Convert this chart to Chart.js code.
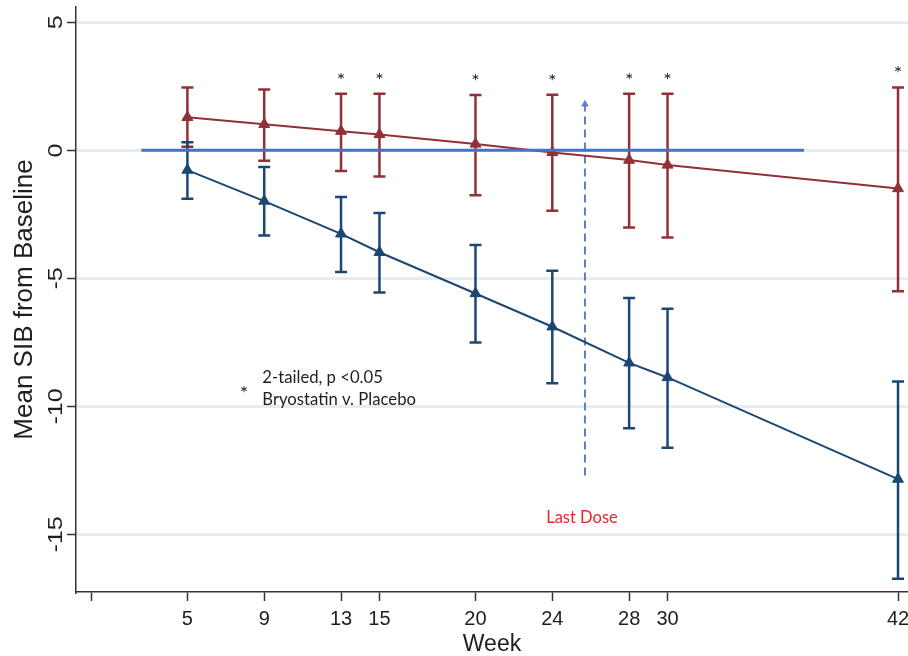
<!DOCTYPE html>
<html>
<head>
<meta charset="utf-8">
<title>Mean SIB from Baseline</title>
<script src="https://cdn.jsdelivr.net/npm/chart.js@4.4.1/dist/chart.umd.min.js"></script>
<style>
  html, body { margin: 0; padding: 0; background: #fff; }
  #wrap { position: relative; width: 908px; height: 656px; }
</style>
</head>
<body>
<div id="wrap"><canvas id="sibChart"></canvas></div>
<script>
// visit weeks
const weeks = [5, 9, 13, 15, 20, 24, 28, 30, 42];

// red series: mean and error bar ends
const redMean = [1.29, 1.02, 0.75, 0.62, 0.25, -0.08, -0.38, -0.57, -1.49];
const redHigh = [2.46, 2.38, 2.21, 2.21, 2.16, 2.17, 2.21, 2.21, 2.46];
const redLow  = [0.14, -0.41, -0.81, -1.02, -1.75, -2.36, -3.01, -3.40, -5.50];

// navy series: mean and error bar ends
const navyMean = [-0.77, -1.98, -3.26, -3.98, -5.59, -6.89, -8.30, -8.87, -12.84];
const navyHigh = [0.32, -0.65, -1.82, -2.45, -3.70, -4.70, -5.77, -6.19, -9.03];
const navyLow  = [-1.89, -3.33, -4.75, -5.55, -7.50, -9.10, -10.85, -11.62, -16.73];

// weeks marked with *
const sigWeeks = [13, 15, 20, 24, 28, 30, 42];

// axis ticks
const xTicks = [0, 5, 9, 13, 15, 20, 24, 28, 30, 42];
const xTickLabels = ['', '5', '9', '13', '15', '20', '24', '28', '30', '42'];
const yTicks = [5, 0, -5, -10, -15];

// zero reference line and last dose marker
const refLineWeeks = [2.6, 37.1];
const lastDoseWeek = 25.7;
const lastDoseRange = [-12.7, 1.8];

const RED = '#913039';
const NAVY = '#1b4872';
const REF_BLUE = '#4472c4';
const DOSE_BLUE = '#5b7fca';
const TEXT = '#1e1e1e';

// --- error bars, drawn under the markers
const errorBars = {
  id: 'errorBars',
  beforeDatasetsDraw(chart) {
    const { ctx, scales: { x, y } } = chart;
    ctx.save();
    ctx.lineWidth = 2.5;
    [[redHigh, redLow, RED], [navyHigh, navyLow, NAVY]].forEach(([hi, lo, col]) => {
      ctx.strokeStyle = col;
      weeks.forEach((w, i) => {
        const px = x.getPixelForValue(w);
        const top = y.getPixelForValue(hi[i]);
        const bot = y.getPixelForValue(lo[i]);
        ctx.beginPath();
        ctx.moveTo(px, top); ctx.lineTo(px, bot);
        ctx.moveTo(px - 6, top); ctx.lineTo(px + 6, top);
        ctx.moveTo(px - 6, bot); ctx.lineTo(px + 6, bot);
        ctx.stroke();
      });
    });
    ctx.restore();
  }
};

// --- rotated y tick labels, asterisks and notes
const notes = {
  id: 'notes',
  afterDraw(chart) {
    const { ctx, scales: { x, y } } = chart;
    ctx.save();

    // y tick labels read bottom to top
    ctx.fillStyle = TEXT;
    ctx.font = '21px "Liberation Sans", Arial, sans-serif';
    ctx.textAlign = 'center';
    ctx.textBaseline = 'alphabetic';
    yTicks.forEach(v => {
      ctx.save();
      ctx.translate(x.left - 14, y.getPixelForValue(v));
      ctx.rotate(-Math.PI / 2);
      ctx.scale(1.2, 1);
      ctx.fillText(String(v), 0, 0);
      ctx.restore();
    });

    // significance stars above the red bars
    ctx.font = '20px Lato, sans-serif';
    sigWeeks.forEach(w => {
      const i = weeks.indexOf(w);
      ctx.fillText('*', x.getPixelForValue(w), y.getPixelForValue(redHigh[i]) - 7);
    });

    // note box
    ctx.fillText('*', x.getPixelForValue(7.95), y.getPixelForValue(-9.75));
    ctx.textAlign = 'left';
    ctx.font = '16.7px Lato, sans-serif';
    ctx.fillText('2-tailed, p <0.05', x.getPixelForValue(8.9), y.getPixelForValue(-9.07));
    ctx.fillText('Bryostatin v. Placebo', x.getPixelForValue(8.9), y.getPixelForValue(-9.95));

    ctx.fillStyle = '#e8262c';
    ctx.font = '16.5px Lato, sans-serif';
    ctx.fillText('Last Dose', x.getPixelForValue(23.68), y.getPixelForValue(-14.56));
    ctx.restore();
  }
};

const ctx = document.getElementById('sibChart');
new Chart(ctx, {
  type: 'line',
  data: {
    datasets: [
      {
        label: 'zero',
        data: refLineWeeks.map(w => ({ x: w, y: 0 })),
        borderColor: REF_BLUE,
        borderWidth: 3,
        pointRadius: 0,
        order: 0
      },
      {
        label: 'red',
        data: weeks.map((w, i) => ({ x: w, y: redMean[i] })),
        borderColor: RED,
        backgroundColor: RED,
        borderWidth: 2,
        pointStyle: 'triangle',
        pointRadius: 6.3,
        pointBorderWidth: 1,
        order: 2
      },
      {
        label: 'navy',
        data: weeks.map((w, i) => ({ x: w, y: navyMean[i] })),
        borderColor: NAVY,
        backgroundColor: NAVY,
        borderWidth: 2,
        pointStyle: 'triangle',
        pointRadius: 6.3,
        pointBorderWidth: 1,
        order: 1
      },
      {
        label: 'last dose',
        data: lastDoseRange.map(v => ({ x: lastDoseWeek, y: v })),
        borderColor: DOSE_BLUE,
        backgroundColor: DOSE_BLUE,
        borderWidth: 2,
        borderDash: [8, 5],
        pointStyle: 'triangle',
        pointRadius: [0, 4.5],
        pointBorderWidth: 0,
        order: 3
      }
    ]
  },
  options: {
    responsive: true,
    maintainAspectRatio: false,
    animation: false,
    layout: { autoPadding: false, padding: { top: 7, right: 0, left: 0, bottom: 0 } },
    plugins: {
      legend: { display: false },
      tooltip: { enabled: false }
    },
    scales: {
      x: {
        type: 'linear',
        min: -0.8,
        max: 42.52,
        afterBuildTicks: s => { s.ticks = xTicks.map(v => ({ value: v })); },
        afterFit: s => { s.height = 64; s.paddingLeft = 0; s.paddingRight = 0; },
        ticks: {
          autoSkip: false,
          maxRotation: 0,
          padding: 6,
          color: TEXT,
          font: { family: '"Liberation Sans", Arial, sans-serif', size: 20 },
          callback: v => xTickLabels[xTicks.indexOf(v)] ?? ''
        },
        grid: { drawOnChartArea: false, tickLength: 9, tickColor: '#333', tickWidth: 1.5 },
        border: { display: true, color: '#333', width: 1.5 },
        title: {
          display: true,
          text: 'Week',
          color: TEXT,
          padding: { top: 0, bottom: 0 },
          font: { family: '"Liberation Sans", Arial, sans-serif', size: 23, lineHeight: 1 }
        }
      },
      y: {
        min: -17.25,
        max: 5.6,
        afterBuildTicks: s => { s.ticks = yTicks.map(v => ({ value: v })); },
        afterFit: s => { s.width = 76; s.paddingTop = 0; s.paddingBottom = 0; },
        ticks: { display: false },
        grid: { color: '#e6edf0', lineWidth: 3, tickLength: 9, tickColor: '#333', tickWidth: 1.5 },
        border: { display: true, color: '#333', width: 1.5 },
        title: {
          display: true,
          text: 'Mean SIB from Baseline',
          color: TEXT,
          padding: { top: 9, bottom: 0 },
          font: { family: '"Liberation Sans", Arial, sans-serif', size: 26 }
        }
      }
    }
  },
  plugins: [errorBars, notes]
});
</script>
</body>
</html>
